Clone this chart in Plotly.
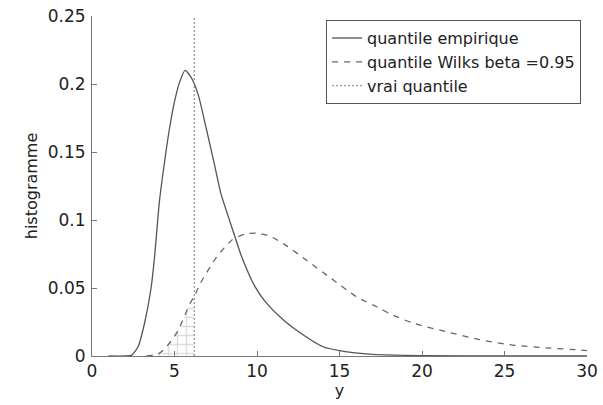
import plotly.graph_objects as go

# ---- data ----
x_emp = [1.0, 2.0, 2.4, 2.8, 3.2, 3.58, 3.8, 4.08, 4.4, 4.68, 5.0, 5.3, 5.64, 6.0, 6.44,
         6.91, 7.4, 7.8, 8.3, 8.67, 9.07, 9.88, 10.5, 11.6, 12.5, 14.0, 15.0, 17.0, 20.0, 25.0, 30.0]
y_emp = [0.0, 0.0, 0.0005, 0.007, 0.025, 0.05, 0.074, 0.113, 0.143, 0.166, 0.187, 0.201, 0.210,
         0.205, 0.192, 0.168, 0.142, 0.12, 0.101, 0.0875, 0.073, 0.051, 0.04, 0.0264, 0.018,
         0.0068, 0.004, 0.0012, 0.0003, 0.0, 0.0]

x_wilks = [3.3, 4.0, 4.32, 4.8, 5.23, 5.94, 6.2, 6.55, 7.55, 8.5, 9.3, 9.98, 10.8, 11.8, 13.0,
           14.5, 16.04, 17.45, 18.06, 19.5, 21.5, 23.5, 25.5, 27.5, 29.6, 30.0]
y_wilks = [0.0, 0.0015, 0.0044, 0.011, 0.019, 0.0386, 0.044, 0.053, 0.0728, 0.0855, 0.0897,
           0.0904, 0.088, 0.081, 0.0704, 0.057, 0.0435, 0.035, 0.031, 0.024, 0.0178, 0.012,
           0.008, 0.006, 0.0044, 0.004]

q_true = 6.2
y_range = [0, 0.25]

x_ticks = [0, 5, 10, 15, 20, 25, 30]
y_ticks = [0, 0.05, 0.1, 0.15, 0.2, 0.25]
y_ticktext = ["0", "0.05", "0.1", "0.15", "0.2", "0.25"]

labels = ["quantile empirique", "quantile Wilks beta =0.95", "vrai quantile"]

FONT = "DejaVu Sans, Verdana, sans-serif"
TXT = "#222222"

fig = go.Figure()

# hatched region under the Wilks curve, left of the true quantile
hx = [x for x in x_wilks if x <= q_true]
hy = [y for x, y in zip(x_wilks, y_wilks) if x <= q_true]
fig.add_trace(go.Scatter(
    x=hx, y=hy, mode="lines", line=dict(width=0, shape="spline"),
    fill="tozeroy", fillcolor="rgba(0,0,0,0)",
    fillpattern=dict(shape="+", fgcolor="#bdbdbd", bgcolor="rgba(0,0,0,0)", size=9, solidity=0.3),
    showlegend=False, hoverinfo="skip"))

fig.add_trace(go.Scatter(x=x_emp, y=y_emp, mode="lines", name=labels[0],
                         line=dict(color="#555555", width=1.3, shape="spline", smoothing=0.6)))
fig.add_trace(go.Scatter(x=x_wilks, y=y_wilks, mode="lines", name=labels[1],
                         line=dict(color="#666666", width=1.3, dash="6px,6px", shape="spline", smoothing=0.6)))
fig.add_trace(go.Scatter(x=[q_true, q_true], y=y_range, mode="lines", name=labels[2],
                         line=dict(color="#999999", width=1.3, dash="2px,2px")))

axis_common = dict(showgrid=False, zeroline=False, showline=True, linecolor="#777777",
                   linewidth=1, ticks="inside", ticklen=5, tickcolor="#777777",
                   automargin=False,
                   tickfont=dict(family=FONT, size=17, color=TXT))

fig.update_xaxes(range=[0, 30], tickvals=x_ticks, ticktext=[str(t) for t in x_ticks],
                 title=dict(text="y", font=dict(family=FONT, size=16, color=TXT), standoff=2),
                 **axis_common)
fig.update_yaxes(range=y_range, tickvals=y_ticks, ticktext=y_ticktext, ticklabelstandoff=2,
                 title=dict(text="histogramme", font=dict(family=FONT, size=16, color=TXT), standoff=6),
                 **axis_common)

fig.update_layout(
    width=603, height=405,
    margin=dict(l=92, r=16, t=16, b=49),
    paper_bgcolor="white", plot_bgcolor="white",
    font=dict(family=FONT, size=16, color=TXT),
    legend=dict(x=0.988, y=0.988, xanchor="right", yanchor="top",
                bordercolor="#555555", borderwidth=1, bgcolor="white",
                font=dict(family=FONT, size=16, color=TXT),
                tracegroupgap=0, itemwidth=30),
)

fig.write_html("out.html")
